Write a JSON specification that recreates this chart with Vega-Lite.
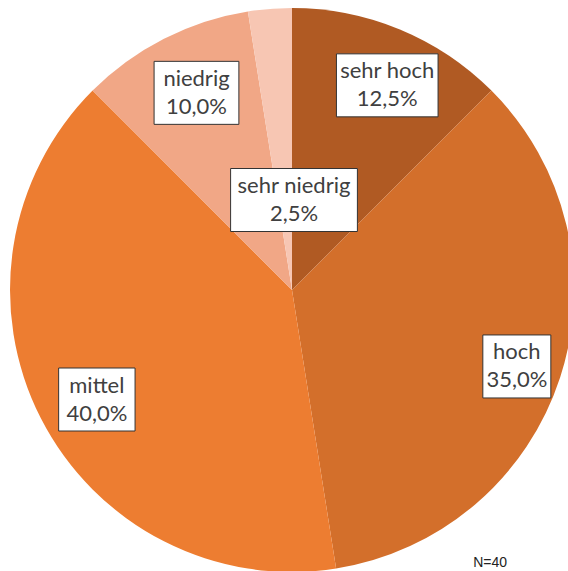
{
  "$schema": "https://vega.github.io/schema/vega-lite/v6.json",
  "width": 552,
  "height": 562,
  "autosize": {"type": "none"},
  "padding": {"left": 16, "top": 9, "right": 0, "bottom": 0},
  "background": "white",
  "config": {"view": {"stroke": null}},
  "title": {
    "text": "N=40",
    "orient": "bottom",
    "anchor": "end",
    "frame": "group",
    "offset": -16,
    "dx": -61,
    "font": "Liberation Sans",
    "fontSize": 14,
    "fontWeight": "normal",
    "color": "#222222"
  },
  "data": {
    "values": [
      {"category": "sehr hoch", "value": 12.5},
      {"category": "hoch", "value": 35.0},
      {"category": "mittel", "value": 40.0},
      {"category": "niedrig", "value": 10.0},
      {"category": "sehr niedrig", "value": 2.5}
    ]
  },
  "transform": [
    {"window": [{"op": "sum", "field": "value", "as": "cumEnd"}], "frame": [null, 0]},
    {"calculate": "datum.cumEnd - datum.value", "as": "cumStart"},
    {"calculate": "replace(format(datum.value, '.1f'), '.', ',') + '%'", "as": "pct"},
    {"calculate": "[datum.category, datum.pct]", "as": "label"},
    {"calculate": "datum.value < 5 ? 2 * PI * datum.cumEnd / 100 : PI * (datum.cumStart + datum.cumEnd) / 100", "as": "la"},
    {"calculate": "datum.value < 5 ? 90 * sin(datum.la) + 2 : 228 * sin(datum.la) + 8", "as": "lx"},
    {"calculate": "datum.value < 5 ? 90 * cos(datum.la) : 228 * cos(datum.la) - 6", "as": "ly"},
    {"calculate": "13 + 4.2 * max(length(datum.category), length(datum.pct))", "as": "hw"},
    {"calculate": "datum.lx - datum.hw", "as": "bx1"},
    {"calculate": "datum.lx + datum.hw", "as": "bx2"},
    {"calculate": "datum.ly - 31.5", "as": "by1"},
    {"calculate": "datum.ly + 31.5", "as": "by2"}
  ],
  "layer": [
    {
      "mark": {"type": "arc", "outerRadius": 282},
      "encoding": {
        "theta": {"field": "cumStart", "type": "quantitative", "scale": {"domain": [0, 100]}, "stack": null},
        "theta2": {"field": "cumEnd"},
        "color": {
          "field": "category",
          "type": "nominal",
          "scale": {
            "domain": ["sehr hoch", "hoch", "mittel", "niedrig", "sehr niedrig"],
            "range": ["#B05A23", "#D36F2B", "#ED7D31", "#F1A786", "#F7C6B3"]
          },
          "legend": null
        }
      }
    },
    {
      "mark": {"type": "rect", "fill": "white", "stroke": "#333333", "strokeWidth": 1},
      "encoding": {
        "x": {"field": "bx1", "type": "quantitative", "scale": {"domain": [-276, 276], "nice": false, "zero": false}, "axis": null},
        "x2": {"field": "bx2"},
        "y": {"field": "by1", "type": "quantitative", "scale": {"domain": [-281, 281], "nice": false, "zero": false}, "axis": null},
        "y2": {"field": "by2"}
      }
    },
    {
      "mark": {"type": "text", "align": "center", "baseline": "middle", "dy": -14, "font": "Lato", "fontSize": 22, "lineHeight": 28, "color": "#404040"},
      "encoding": {
        "x": {"field": "lx", "type": "quantitative", "scale": {"domain": [-276, 276], "nice": false, "zero": false}, "axis": null},
        "y": {"field": "ly", "type": "quantitative", "scale": {"domain": [-281, 281], "nice": false, "zero": false}, "axis": null},
        "text": {"field": "label"}
      }
    }
  ]
}
